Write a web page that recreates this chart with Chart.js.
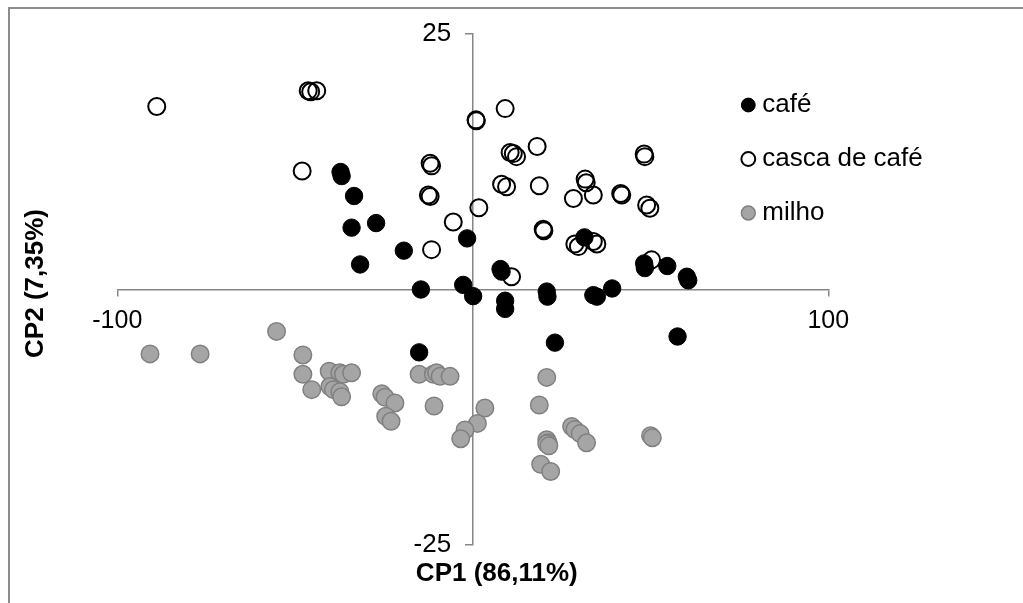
<!DOCTYPE html>
<html>
<head>
<meta charset="utf-8">
<script src="https://cdn.jsdelivr.net/npm/chart.js@4/dist/chart.umd.min.js"></script>
<style>
  body { margin: 0; background: #fff; }
  #wrap { position: relative; width: 1023px; height: 603px; overflow: hidden; }
  #frame { position: absolute; left: 8px; top: 7px; width: 1100px; height: 700px;
           border-left: 2px solid #8c8c8c; border-top: 2px solid #8c8c8c; }
  canvas { position: absolute; left: 0; top: 0; }
</style>
</head>
<body>
<div id="wrap">
  <div id="frame"></div>
  <canvas id="myChart" width="1023" height="603"></canvas>
</div>
<script>
let seriesNames = ['café', 'casca de café', 'milho'];

let xTicks = [-100, 100];
let yTicks = [-25, 25];

let cafeX = [-37.2, -36.9, -33.4, -34.1, -27.2, -31.7, -19.4, -14.6, -1.6, -2.7, 0.1, 7.8, 8.1, 9.1, 9.1,
             20.8, 21.0, 33.9, 34.9, 39.2, 31.4, 48.2, 48.4, 54.7, 60.2, 60.6, 23.1, 57.6, -15.1];
let cafeY = [11.5, 11.1, 9.15, 6.05, 6.5, 2.45, 3.8, 0.0, 5.0, 0.45, -0.65, 2.0, 1.75, -1.1, -1.9,
             -0.2, -0.7, -0.55, -0.7, 0.1, 5.1, 2.55, 2.1, 2.3, 1.25, 0.9, -5.2, -4.6, -6.15];

let cascaX = [-88.9, -46.3, -45.6, -43.9, -48.0, -12.0, -11.6, -12.5, -12.0, -5.5, -11.6, 1.7, 0.9, 1.0,
              9.1, 8.1, 9.5, 10.5, 11.4, 12.3, 18.1, 18.7, 28.3, 31.6, 31.9, 33.9, 41.6, 41.9,
              48.2, 48.4, 48.9, 49.8, 19.8, 20.0, 28.7, 29.7, 34.9, 33.9, 50.3, 10.9];
let cascaY = [17.9, 19.45, 19.35, 19.45, 11.6, 12.35, 12.1, 9.25, 9.1, 6.6, 3.9, 8.0, 16.6, 16.5,
              17.7, 10.3, 10.05, 13.4, 13.3, 13.0, 14.0, 10.15, 8.9, 10.8, 10.45, 9.25, 9.4, 9.25,
              13.25, 13.0, 8.27, 7.95, 5.9, 5.75, 4.45, 4.2, 4.45, 4.7, 2.9, 1.25];

let milhoX = [-90.8, -76.7, -55.2, -47.8, -47.8, -45.3, -40.4, -37.4, -36.4, -34.1, -40.2, -39.2, -37.4,
              -36.9, -25.6, -24.7, -21.9, -24.5, -23.0, -15.1, -11.1, -10.2, -9.2, -6.4, -10.9, 3.4,
              1.3, -2.2, -3.4, 20.8, 18.7, 20.8, 21.2, 20.8, 21.4, 19.1, 21.9, 27.8, 28.7, 30.2,
              32.0, 50.0, 50.5];
let milhoY = [-6.3, -6.3, -4.1, -6.4, -8.3, -9.8, -8.0, -8.15, -8.3, -8.15, -9.5, -9.8, -10.0,
              -10.5, -10.2, -10.55, -11.1, -12.4, -12.9, -8.3, -8.3, -8.15, -8.5, -8.5, -11.4, -11.6,
              -13.1, -13.75, -14.6, -8.6, -11.3, -14.7, -15.0, -15.1, -15.3, -17.1, -17.8, -13.4, -13.7, -14.1,
              -15.0, -14.3, -14.5];

let xTitle = 'CP1 (86,11%)';
let yTitle = 'CP2 (7,35%)';

function toPoints(xs, ys) {
    return xs.map((x, i) => ({ x: x, y: ys[i] }));
}

// legend sits inside the plot, and the axis titles are a little off the plot centre
const placeBoxes = {
    id: 'placeBoxes',
    afterLayout(chart) {
        let l = chart.legend;
        l.left = 719.3;
        l.top = 64;
        l.right = chart.width;
        l.bottom = chart.chartArea.bottom;
        chart.titleBlock.left += 24;
        chart.titleBlock.right += 24;
        let side = chart.boxes.find(b => b.options && b.options.text === yTitle);
        if (side) {
            side.top -= 6;
            side.bottom -= 6;
        }
    }
};

Chart.defaults.font.family = '"Liberation Sans", Arial, sans-serif';
Chart.defaults.color = '#000';

let ctx = document.getElementById('myChart').getContext('2d');

let chart = new Chart(ctx, {
    type: 'scatter',
    data: {
        datasets: [{
            label: seriesNames[0],
            data: toPoints(cafeX, cafeY),
            backgroundColor: '#000',
            borderColor: '#000',
            borderWidth: 1,
            pointRadius: 8.7
        }, {
            label: seriesNames[1],
            data: toPoints(cascaX, cascaY),
            backgroundColor: 'rgba(255,255,255,0)',
            borderColor: '#000',
            borderWidth: 2,
            pointRadius: 8.5
        }, {
            label: seriesNames[2],
            data: toPoints(milhoX, milhoY),
            backgroundColor: '#a5a5a5',
            borderColor: '#808080',
            borderWidth: 1.5,
            pointRadius: 8.75
        }]
    },
    options: {
        responsive: false,
        animation: false,
        layout: {
            padding: { left: 10, right: 194.7, top: 34, bottom: 0 }
        },
        scales: {
            x: {
                type: 'linear',
                position: { y: 0 },
                min: -100,
                max: 100,
                afterBuildTicks: (scale) => { scale.ticks = xTicks.map(v => ({ value: v })); },
                ticks: { font: { size: 25 }, padding: 10.5 },
                grid: { drawOnChartArea: false, tickLength: 6, color: '#868686', lineWidth: 1.5 },
                border: { color: '#868686', width: 1.5 }
            },
            y: {
                type: 'linear',
                position: { x: 0 },
                min: -25,
                max: 25,
                afterBuildTicks: (scale) => { scale.ticks = yTicks.map(v => ({ value: v })); },
                // labels of a crossing axis are drawn flush with the line, so pad them
                ticks: { font: { size: 26 }, callback: (v) => v + '   ' },
                grid: { drawOnChartArea: false, tickLength: 7, color: '#868686', lineWidth: 1.5 },
                border: { color: '#868686', width: 1.5 }
            }
        },
        plugins: {
            legend: {
                position: 'chartArea',
                align: 'start',
                labels: {
                    usePointStyle: true,
                    boxWidth: 2,
                    boxHeight: 9.8,
                    padding: 28,
                    font: { size: 26 }
                }
            },
            title: {
                display: true,
                text: xTitle,
                position: 'bottom',
                fullSize: false,
                font: { size: 26, weight: 'bold' },
                padding: { top: 13.4, bottom: 13.4 }
            },
            subtitle: {
                display: true,
                text: yTitle,
                position: 'left',
                fullSize: false,
                color: '#000',
                font: { size: 26, weight: 'bold' },
                padding: { top: 10.4, bottom: 65.7 }
            },
            tooltip: { enabled: false }
        }
    },
    plugins: [placeBoxes]
});
</script>
</body>
</html>
